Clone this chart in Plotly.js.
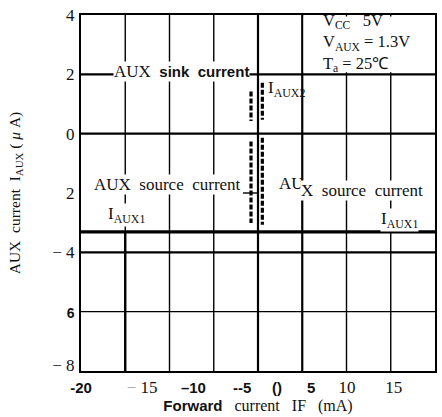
<!DOCTYPE html>
<html><head><meta charset="utf-8">
<script src="https://cdn.plot.ly/plotly-3.0.1.min.js"></script>
<style>html,body{margin:0;padding:0;background:#fff}#chart{width:442px;height:417px}</style>
</head><body><div id="chart"></div>
<script>
const SERIF = 'Liberation Serif, Times New Roman, serif';
const B = (s, sz) => `<span style="font-family:Liberation Sans, Arial, sans-serif;font-weight:bold;font-size:${sz || 15}px">${s}</span>`;

const X_RANGE = [-20, 20];
const Y_RANGE = [-8, 4];
const X_TICK_POS = [-20, -13.1, -7.3, -1.8, 2.15, 6.0, 10.05, 15.35, 20];
const X_TICK_TEXT = [B('-20'), '<span style="color:#999">−</span>&nbsp;15', B('–10'), B('--5'), B('()'), B('5'), '10', '15', B('20')];
const Y_TICK_POS = [4, 2, 0, -2, -4, -6, -7.8];
const Y_TICK_TEXT = ['4', '2', '0', '2', '−&nbsp;4', B('6', 14), '−&nbsp;8'];
const X_GRID_THIN = [-15, -10, -5, 10, 15];
const X_GRID_THICK = [0, 5];
const Y_GRID_THIN = [-6];
const Y_GRID_THICK = [2, 0, -4];
const SOURCE_LEADER_X = [-1.7, -0.1];
const SOURCE_LEADER_Y = -2.0;
const COND_BOX_X = [5.15, 19.9];
const COND_BOX_Y = [2.07, 3.95];
const IAUX1_X = [-20, 20];
const IAUX1_LEVEL = -3.31;
const LEFT_CURVE_X = [-0.79, -0.79, null, -0.79, -0.79];
const LEFT_CURVE_Y = [1.42, 0.43, null, -0.26, -3.01];
const RIGHT_CURVE_X = [0.49, 0.49, null, 0.49, 0.49];
const RIGHT_CURVE_Y = [1.72, 0.47, null, -0.14, -3.07];

const traces = [
  {x: IAUX1_X, y: [IAUX1_LEVEL, IAUX1_LEVEL], mode: 'lines', line: {color: '#000', width: 3.4}, hoverinfo: 'skip'},
  {x: LEFT_CURVE_X, y: LEFT_CURVE_Y, mode: 'lines', line: {color: '#000', width: 3.2, dash: '5px,2px'}, hoverinfo: 'skip'},
  {x: RIGHT_CURVE_X, y: RIGHT_CURVE_Y, mode: 'lines', line: {color: '#000', width: 3.2, dash: '5px,2px'}, hoverinfo: 'skip'}
];

const shapes = [];
X_GRID_THIN.forEach(v => shapes.push({type: 'line', xref: 'x', yref: 'paper', x0: v, x1: v, y0: 0, y1: 1, line: {color: '#000', width: 1.4}, layer: 'below'}));
X_GRID_THICK.forEach(v => shapes.push({type: 'line', xref: 'x', yref: 'paper', x0: v, x1: v, y0: 0, y1: 1, line: {color: '#000', width: 2.2}, layer: 'below'}));
shapes.push({type: 'line', xref: 'x', yref: 'y', x0: X_GRID_THIN[0], x1: X_GRID_THIN[0], y0: Y_RANGE[0], y1: IAUX1_LEVEL, line: {color: '#000', width: 2.4}, layer: 'below'});
Y_GRID_THIN.forEach(v => shapes.push({type: 'line', xref: 'paper', yref: 'y', x0: 0, x1: 1, y0: v, y1: v, line: {color: '#000', width: 1.4}, layer: 'below'}));
Y_GRID_THICK.forEach(v => shapes.push({type: 'line', xref: 'paper', yref: 'y', x0: 0, x1: 1, y0: v, y1: v, line: {color: '#000', width: 2.2}, layer: 'below'}));
shapes.push({type: 'line', xref: 'x', yref: 'y', x0: SOURCE_LEADER_X[0], x1: SOURCE_LEADER_X[1], y0: SOURCE_LEADER_Y, y1: SOURCE_LEADER_Y, line: {color: '#000', width: 1.4}, layer: 'below'});
shapes.push({type: 'rect', xref: 'x', yref: 'y', x0: COND_BOX_X[0], x1: COND_BOX_X[1], y0: COND_BOX_Y[0], y1: COND_BOX_Y[1], fillcolor: '#fff', line: {width: 0}, layer: 'below'});

const TXT = {family: SERIF, size: 17, color: '#111'};
const ann = (x, y, text, extra) => Object.assign({x, y, xref: 'x', yref: 'y', text, showarrow: false, xanchor: 'left', yanchor: 'middle', font: TXT, bgcolor: '#fff', borderpad: 0}, extra || {});
const annotations = [
  ann(-16.38, 2.08, 'AUX&nbsp;&nbsp;' + B('sink&nbsp;&nbsp;current')),
  ann(1.0, 1.5, 'I<sub>AUX2</sub>', {bgcolor: 'rgba(0,0,0,0)'}),
  ann(-18.64, -1.73, 'AUX&nbsp;&nbsp;source&nbsp;&nbsp;current'),
  ann(-17.1, -2.74, 'I<sub>AUX1</sub>'),
  ann(2.26, -1.67, 'AU', {bgcolor: 'rgba(0,0,0,0)'}),
  ann(4.75, -1.9, 'X&nbsp;&nbsp;source&nbsp;&nbsp;current'),
  ann(13.8, -2.91, 'I<sub>AUX1</sub>'),
  ann(7.2, 3.08, 'V<sub>CC</sub>&nbsp;&nbsp;&nbsp;5V<br>V<sub>AUX</sub>&nbsp;=&nbsp;1.3V<br>T<sub>a</sub>&nbsp;=&nbsp;25℃',
      {align: 'left', bgcolor: 'rgba(0,0,0,0)', font: {family: SERIF, size: 16.5, color: '#111'}})
];

const layout = {
  width: 442, height: 417,
  margin: {l: 81, r: 7, t: 15, b: 46},
  paper_bgcolor: '#fff', plot_bgcolor: '#fff',
  showlegend: false,
  xaxis: {
    range: X_RANGE, tickmode: 'array', tickvals: X_TICK_POS, ticktext: X_TICK_TEXT,
    ticks: '', showgrid: false, zeroline: false,
    showline: true, mirror: true, linecolor: '#000', linewidth: 2,
    tickfont: {family: SERIF, size: 17, color: '#111'}, ticklabelstandoff: 0,
    title: {text: B('Forward') + '&nbsp;&nbsp;&nbsp;current&nbsp;&nbsp;&nbsp;IF&nbsp;&nbsp;&nbsp;(mA)', font: {family: SERIF, size: 16, color: '#111'}, standoff: 2}
  },
  yaxis: {
    range: Y_RANGE, tickmode: 'array', tickvals: Y_TICK_POS, ticktext: Y_TICK_TEXT,
    ticks: '', showgrid: false, zeroline: false,
    showline: true, mirror: true, linecolor: '#000', linewidth: 2,
    tickfont: {family: SERIF, size: 17, color: '#111'}, ticklabelstandoff: 1,
    title: {text: 'AUX&nbsp;&nbsp;current&nbsp;&nbsp;I<sub>AUX</sub>&nbsp;(&nbsp;<i>μ</i>&nbsp;A)', font: {family: SERIF, size: 15.5, color: '#111'}, standoff: 28}
  },
  shapes, annotations
};

Plotly.newPlot('chart', traces, layout, {staticPlot: true, displayModeBar: false});
</script>
</body></html>
